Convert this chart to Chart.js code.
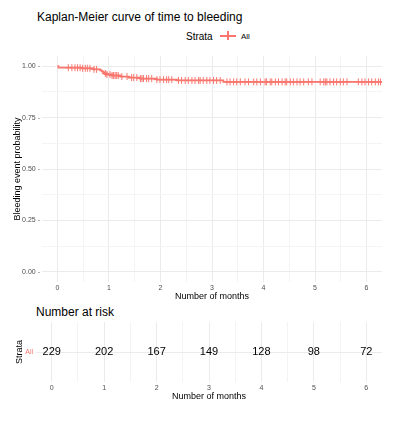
<!DOCTYPE html>
<html><head><meta charset="utf-8">
<script src="https://cdn.jsdelivr.net/npm/chart.js@4"></script>
<style>
body{margin:0;width:404px;height:430px;background:#fff;font-family:"Liberation Sans",Arial,sans-serif;position:relative;overflow:hidden}
.t{position:absolute;white-space:nowrap;color:#000}
</style></head><body>
<div class="t" style="left:37px;top:10px;font-size:12px">Kaplan-Meier curve of time to bleeding</div>
<div class="t" style="left:186px;top:31px;font-size:10px">Strata</div>
<div class="t" style="left:220px;top:35px;width:16px;height:2px;background:#F8766D"></div>
<div class="t" style="left:227px;top:31px;width:2px;height:9px;background:#F8766D"></div>
<div class="t" style="left:241px;top:32px;font-size:8px">All</div>
<div class="t" style="left:36px;top:305px;font-size:12px">Number at risk</div>
<div style="position:absolute;left:0;top:0;width:404px;height:302px"><canvas id="c1"></canvas></div>
<div style="position:absolute;left:0;top:300px;width:404px;height:102px"><canvas id="c2"></canvas></div>
<script>
const eventTimes=[0,0.02,0.47,0.70,0.83,0.86,0.89,0.92,0.96,1.06,1.22,1.38,1.61,1.93,2.32,3.22,6.3];
const survival=[1,0.993,0.99,0.985,0.98,0.975,0.97,0.965,0.96,0.955,0.95,0.945,0.94,0.935,0.931,0.924,0.924];
const censorTimes=[0.21,0.28,0.34,0.39,0.44,0.49,0.54,0.58,0.63,0.71,0.76,0.93,0.96,1.02,1.06,1.09,1.12,1.15,1.18,1.25,1.35,1.44,1.48,1.54,1.61,1.64,1.67,1.73,1.77,1.83,1.93,1.99,2.06,2.12,2.16,2.22,2.35,2.41,2.48,2.54,2.61,2.67,2.74,2.77,2.83,2.9,2.96,3.03,3.09,3.16,3.29,3.35,3.42,3.48,3.55,3.64,3.71,3.81,3.87,3.94,4.03,4.06,4.13,4.16,4.23,4.29,4.36,4.42,4.45,4.52,4.58,4.65,4.71,4.78,4.87,4.94,5.1,5.17,5.2,5.23,5.29,5.36,5.42,5.49,5.55,5.62,5.84,5.91,5.97,6.04,6.1,6.17,6.23,6.27];
const yTicks=[0,0.25,0.5,0.75,1];
const riskTimes=[0,1,2,3,4,5,6];
const riskCounts=[229,202,167,149,128,98,72];
const red='#F8766D', grid='#ebebeb', tick='#4d4d4d';
function survAt(t){let s=1;for(let i=0;i<eventTimes.length;i++){if(eventTimes[i]<=t)s=survival[i];}return s;}
Chart.defaults.font.family='"Liberation Sans",Arial,sans-serif';
Chart.defaults.animation=false;
const xScale=(h,title)=>({type:'linear',min:-0.3,max:6.3,
  afterBuildTicks:a=>{a.ticks=[];for(let v=0;v<=6.01;v+=0.5)a.ticks.push({value:+v.toFixed(1)});},
  ticks:{color:tick,font:{size:7},padding:2,maxRotation:0,autoSkip:false,callback:v=>Number.isInteger(v)?String(v):''},
  grid:{color:c=>c.tick&&Number.isInteger(c.tick.value)?grid:'#f4f4f4',tickLength:0,drawTicks:false},border:{display:false},
  title:{display:true,text:title,font:{size:9},color:'#000',padding:0},
  afterFit:a=>{a.height=h;}});
new Chart(document.getElementById('c1'),{type:'scatter',
 data:{datasets:[
  {data:eventTimes.map((t,i)=>({x:t,y:survival[i]})),showLine:true,stepped:true,borderColor:red,borderWidth:1.8,pointRadius:0},
  {data:censorTimes.map(t=>({x:t,y:survAt(t)})),pointStyle:'cross',pointRadius:3.5,borderColor:red,borderWidth:1,backgroundColor:red}
 ]},
 options:{responsive:true,maintainAspectRatio:false,layout:{padding:{top:56,right:22,left:12,bottom:0}},
  plugins:{legend:{display:false},tooltip:{enabled:false}},
  scales:{x:xScale(20,'Number of months'),
   y:{min:-0.05,max:1.05,afterBuildTicks:a=>{a.ticks=[];for(let v=0;v<=1.001;v+=0.125)a.ticks.push({value:+v.toFixed(3)});},
    ticks:{color:tick,font:{size:7},padding:2,callback:v=>yTicks.includes(v)?v.toFixed(2)+' -':''},
    grid:{color:c=>c.tick&&yTicks.includes(c.tick.value)?grid:'#f4f4f4',drawTicks:false},border:{display:false},
    title:{display:true,text:'Bleeding event probability',font:{size:9},color:'#000',padding:0},
    afterFit:a=>{a.width=30;}}}}});
new Chart(document.getElementById('c2'),{type:'scatter',
 data:{datasets:[{data:riskTimes.map((t,i)=>({x:t,y:1})),pointRadius:0}]},
 options:{responsive:true,maintainAspectRatio:false,layout:{padding:{top:22,right:22,left:14,bottom:0}},
  plugins:{legend:{display:false},tooltip:{enabled:false}},
  scales:{x:xScale(20,'Number of months'),
   y:{min:0,max:2,afterBuildTicks:a=>{a.ticks=[{value:1}];},
    ticks:{color:red,font:{size:7},padding:3,callback:()=> 'All'},
    grid:{color:grid,drawTicks:false},border:{display:false},
    title:{display:true,text:'Strata',font:{size:9},color:'#000',padding:0},
    afterFit:a=>{a.width=22;}}}},
 plugins:[{id:'lbl',afterDatasetsDraw(ch){const c=ch.ctx,xs=ch.scales.x,ys=ch.scales.y;c.save();c.font='11px "Liberation Sans",Arial';c.fillStyle='#000';c.textAlign='center';c.textBaseline='middle';
  riskTimes.forEach((t,i)=>c.fillText(String(riskCounts[i]),xs.getPixelForValue(t),ys.getPixelForValue(1)));c.restore();}}]});
</script></body></html>
